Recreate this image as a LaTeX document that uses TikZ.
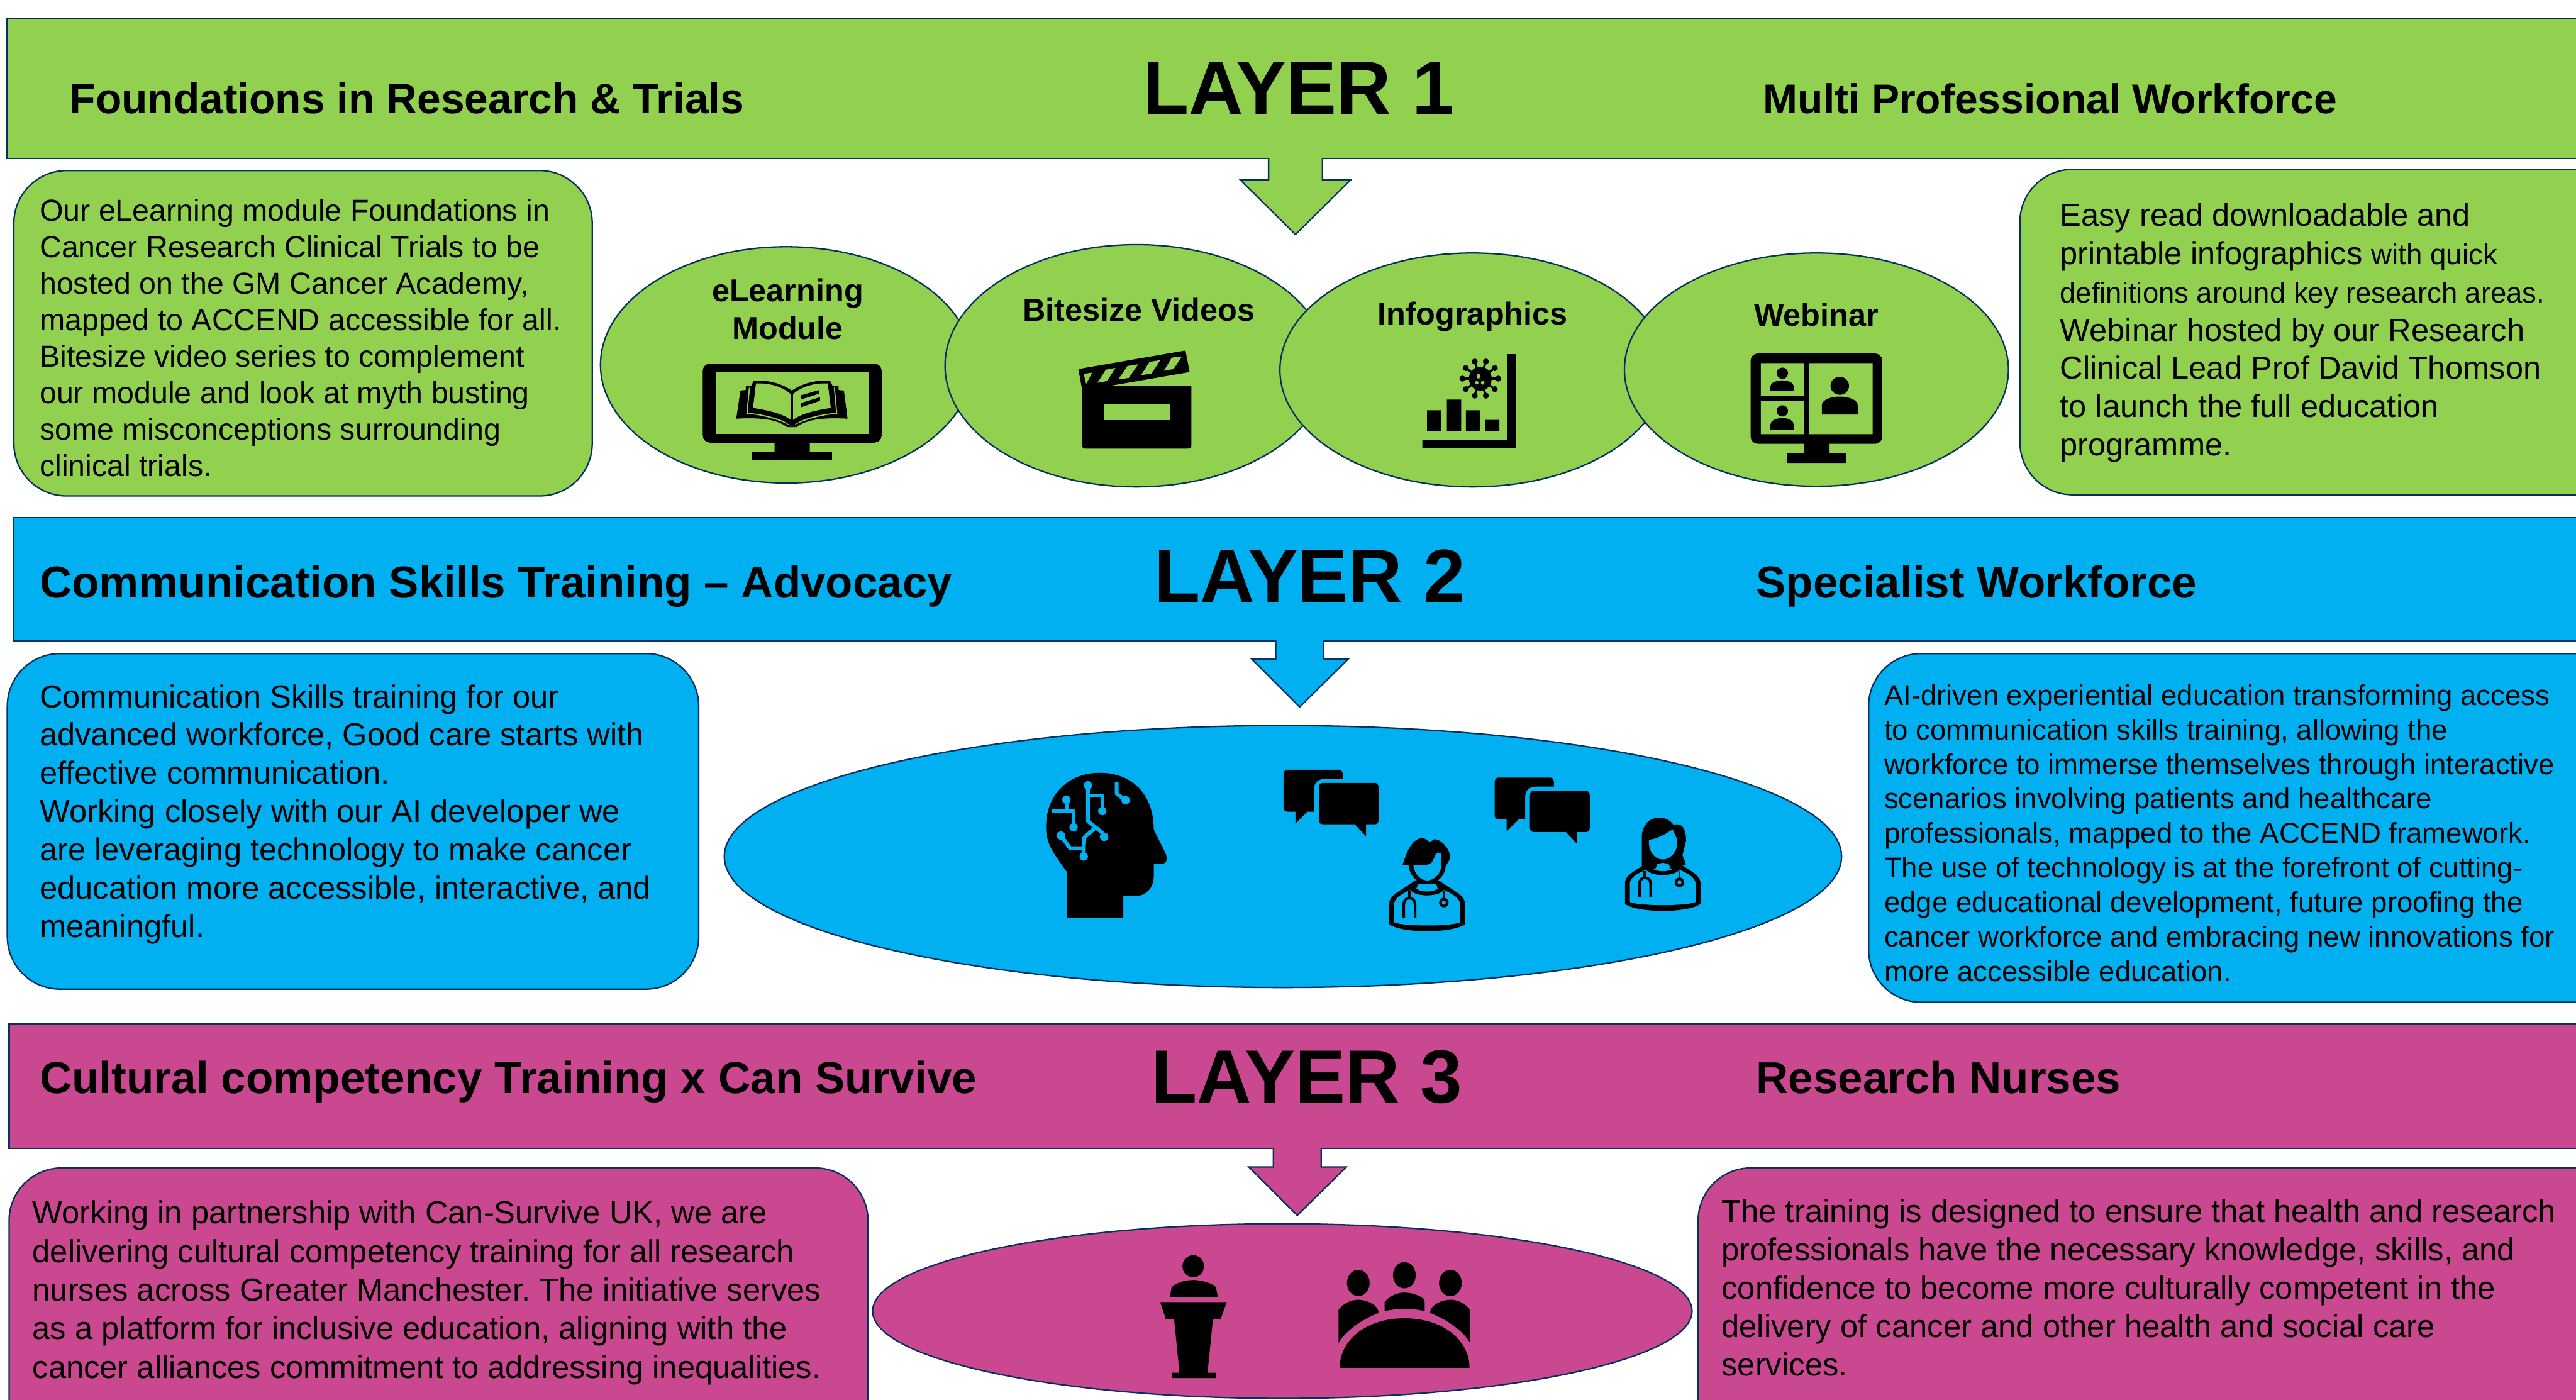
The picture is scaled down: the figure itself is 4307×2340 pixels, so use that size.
\documentclass[tikz,border=0pt]{standalone}
\usepackage{fontspec}
\setmainfont{Liberation Sans}
\definecolor{lg}{HTML}{92D050}
\definecolor{lb}{HTML}{00B0F0}
\definecolor{lm}{HTML}{C9488F}
\definecolor{edgec}{HTML}{05305F}
\newcommand{\docbody}{%
  \fill[black] (2323,1508) .. controls (2325,1495) and (2345,1488) .. (2366,1472) -- (2406,1472) .. controls (2427,1488) and (2447,1495) .. (2449,1508) -- (2449,1545) .. controls (2440,1553) and (2410,1557) .. (2386,1557) .. controls (2362,1557) and (2332,1553) .. (2323,1545) -- cycle;
  \fill[icoback] (2331,1510) .. controls (2333,1500) and (2345,1494) .. (2358,1488) .. controls (2366,1500) and (2406,1500) .. (2414,1488) .. controls (2427,1494) and (2439,1500) .. (2441,1510) -- (2441,1542) .. controls (2425,1549) and (2347,1549) .. (2331,1542) -- cycle;
  \fill[icoback] (2371,1478) -- (2401,1478) -- (2404,1486) .. controls (2395,1492) and (2377,1492) .. (2368,1486) -- cycle;
  \draw[black,line width=2.2pt] (2356,1490) -- (2356,1503);
  \draw[black,line width=2.2pt] (2347,1534) -- (2347,1512) .. controls (2347,1498) and (2366,1498) .. (2366,1512) -- (2366,1534);
  \draw[black,line width=1.6pt] (2414,1490) -- (2414,1503);
  \fill[black] (2414,1509) ellipse [x radius=8, y radius=8];
  \fill[icoback] (2414,1509) ellipse [x radius=3.5, y radius=3.5];
}
\newcommand{\bubblepair}{%
  \fill[black] (2152,1287) -- (2239,1287) .. controls (2243,1287) and (2245,1291) .. (2245,1295) -- (2245,1302) -- (2218,1302) .. controls (2203,1302) and (2197,1308) .. (2197,1320) -- (2197,1357) -- (2186,1357) -- (2166,1377) -- (2166,1357) -- (2152,1357) .. controls (2148,1357) and (2146,1353) .. (2146,1349) -- (2146,1295) .. controls (2146,1291) and (2148,1287) .. (2152,1287) -- cycle;
  \fill[black] (2211,1309) -- (2299,1309) .. controls (2303,1309) and (2305,1313) .. (2305,1317) -- (2305,1370) .. controls (2305,1375) and (2303,1378) .. (2299,1378) -- (2284,1378) -- (2284,1398) -- (2265,1378) -- (2211,1378) .. controls (2207,1378) and (2205,1375) .. (2205,1370) -- (2205,1317) .. controls (2205,1313) and (2207,1309) .. (2211,1309) -- cycle;
}
\tikzset{
  x=0.5pt,y=-0.5pt,
  banner/.style={draw=edgec,line width=1.2pt,fill=#1,rectangle,inner sep=0pt},
  bubble/.style={draw=edgec,line width=1.2pt,fill=#1,rectangle,inner sep=0pt,rounded corners=44pt},
  oval/.style={draw=edgec,line width=1.2pt,fill=#1,ellipse,inner sep=0pt},
  arrowedge/.style={draw=edgec,line width=1.2pt,line join=miter},
  layertitle/.style={font=\fontsize{63}{66}\selectfont\bfseries,inner sep=0pt},
  heading/.style={inner sep=0pt,anchor=base west},
  ovallabel/.style={font=\fontsize{26.5}{31.5}\selectfont\bfseries,inner sep=0pt,align=center},
  body/.style={inner sep=0pt,anchor=north west,align=left},
  icoback/.style={fill=lb}
}
\usetikzlibrary{shapes.geometric}
\frenchspacing
\begin{document}
\begin{tikzpicture}
\useasboundingbox (0,0) rectangle (4307,2340);
\clip (0,0) rectangle (4307,2340);
\fill[white] (0,0) rectangle (4307,2340);

% LAYER 1
\node[banner=lg,minimum width=2200pt,minimum height=117.5pt,anchor=north west] (b1) at (11,29) {};
\fill[lg] (2121,258) -- (2121,301) -- (2074,301) -- (2166,392) -- (2258,301) -- (2211,301) -- (2211,258) -- cycle;
\draw[arrowedge] (2121,264) -- (2121,301) -- (2074,301) -- (2166,392) -- (2258,301) -- (2211,301) -- (2211,264);
\node[bubble=lg,minimum width=483.5pt,minimum height=272pt,anchor=north west] (l1a) at (22,284) {};
\node[bubble=lg,minimum width=600pt,minimum height=272pt,anchor=north west] (l1b) at (3376,282) {};
\node[layertitle] (t1) at (2171,148) {LAYER 1};
\node[heading,font=\fontsize{35.6}{42}\selectfont\bfseries] (h1a) at (116,190) {Foundations in Research \& Trials};
\node[heading,font=\fontsize{34.7}{42}\selectfont\bfseries] (h1b) at (2948,190) {Multi Professional Workforce};
\node[body,font=\fontsize{25.4}{30.5}\selectfont] (p1a) at (66,332) {Our eLearning module Foundations in\\Cancer Research Clinical Trials to be\\hosted on the GM Cancer Academy,\\mapped to ACCEND accessible for all.\\Bitesize video series to complement\\our module and look at myth busting\\some misconceptions surrounding\\clinical trials.};
\node[body,font=\fontsize{26.6}{32}\selectfont] (p1b) at (3444,339) {Easy read downloadable and\\printable infographics {\fontsize{24}{32}\selectfont with quick}\\\fontsize{23.9}{32}\selectfont definitions around key research areas.\\Webinar hosted by our Research\\Clinical Lead Prof David Thomson\\to launch the full education\\programme.};

\node[oval=lg,minimum width=311pt,minimum height=197.5pt] (e1) at (1315,610) {};
\node[oval=lg,minimum width=320pt,minimum height=202.5pt] (e2) at (1900,611.5) {};
\node[oval=lg,minimum width=322pt,minimum height=195.5pt] (e3) at (2462,618.5) {};
\node[oval=lg,minimum width=321pt,minimum height=195pt] (e4) at (3037,618) {};
\node[ovallabel] (e1t) at (1317,517) {eLearning\\Module};
\node[ovallabel] (e2t) at (1904,518) {Bitesize Videos};
\node[ovallabel] (e3t) at (2462,530) {Infographics};
\node[ovallabel] (e4t) at (3037,526) {Webinar};

% monitor + book
\fill[black,rounded corners=6pt] (1175,608) rectangle (1474,740);
\fill[black] (1295,738) rectangle (1354,756) (1257,755) rectangle (1391,769);
\fill[lg] (1197,622) rectangle (1452,726);
\begin{scope}[black,line join=round]
\fill (1231,700) -- (1238,653) -- (1247,652) -- (1247,645) -- (1256,645) -- (1260,637) .. controls (1290,634) and (1312,645) .. (1324,653) .. controls (1336,645) and (1358,634) .. (1388,637) -- (1392,645) -- (1402,645) -- (1402,652) -- (1411,653) -- (1417,700) .. controls (1380,698) and (1350,700) .. (1332,714) -- (1316,714) .. controls (1298,700) and (1268,698) .. (1231,700) -- cycle;
\fill[lg] (1248,692) -- (1252,648) -- (1254,648) -- (1250,690) .. controls (1280,693) and (1308,700) .. (1322,712) .. controls (1308,704) and (1275,693) .. (1248,692) -- cycle;
\fill[lg] (1400,692) -- (1396,648) -- (1394,648) -- (1398,690) .. controls (1368,693) and (1340,700) .. (1326,712) .. controls (1340,704) and (1373,693) .. (1400,692) -- cycle;
\fill[lg] (1264,641) .. controls (1290,640) and (1310,648) .. (1322,659) -- (1322,702) .. controls (1310,692) and (1285,686) .. (1259,682) -- cycle;
\fill[lg] (1384,641) .. controls (1358,640) and (1338,648) .. (1326,659) -- (1326,702) .. controls (1338,692) and (1363,686) .. (1389,682) -- cycle;
\fill (1339,661) -- (1370,652) -- (1370,658) -- (1339,668) -- cycle;
\fill (1339,674) -- (1371,664) -- (1371,670) -- (1339,681) -- cycle;
\end{scope}

% clapboard
\fill[black] (1803,617) -- (1982,586) -- (1989,622) -- (1856,645) -- (1992,645) -- (1992,745) .. controls (1992,748) and (1990,750) .. (1986,750) -- (1815,750) .. controls (1811,750) and (1809,748) .. (1809,745) -- (1809,650) -- cycle;
\fill[lg] (1845,675) rectangle (1956,702);
\fill[lg] (1812,625) -- (1826,623) -- (1816,642) -- cycle;
\fill[lg] (1849,618) -- (1865,615) -- (1851,637) -- (1835,640) -- cycle;
\fill[lg] (1885,612) -- (1903,609) -- (1887,632) -- (1870,634) -- cycle;
\fill[lg] (1922,605) -- (1940,602) -- (1925,625) -- (1908,627) -- cycle;
\fill[lg] (1959,598) -- (1976,596) -- (1962,617) -- (1946,620) -- cycle;

% infographic
\fill[black] (2520,592) rectangle (2534,749) (2378,735) rectangle (2534,749);
\fill[black] (2386,686) rectangle (2410,721) (2419,668) rectangle (2443,721) (2451,686) rectangle (2475,721) (2483,702) rectangle (2507,721);
\foreach \a in {0,36,...,324}{
  \draw[black,line width=1.8pt] (2475,633) -- ++(\a:30);
  \fill[black] (2475,633) ++(\a:30) circle [radius=5];
}
\fill[black] (2475,633) ellipse [x radius=19, y radius=20];
\fill[lg] (2472,629) ellipse [x radius=3, y radius=4] (2469,640) ellipse [x radius=3, y radius=3] (2479,640) ellipse [x radius=3, y radius=3];

% webinar
\fill[black,rounded corners=6pt] (2927,591) rectangle (3147,742);
\fill[black] (3016,740) rectangle (3059,760) (2988,758) rectangle (3087,774);
\fill[lg] (2944,607) rectangle (3016,662) (2944,670) rectangle (3016,726) (3025,607) rectangle (3131,726);
\fill[black] (2980,624) ellipse [x radius=9.5, y radius=9.5];
\fill[black] (2960,654) -- (2960,646) .. controls (2960,640) and (2970,636) .. (2980,636) .. controls (2990,636) and (2999,640) .. (2999,646) -- (2999,654) -- cycle;
\fill[black] (2980,687) ellipse [x radius=9.5, y radius=9.5];
\fill[black] (2960,718) -- (2960,710) .. controls (2960,703) and (2970,699) .. (2980,699) .. controls (2990,699) and (2999,703) .. (2999,710) -- (2999,718) -- cycle;
\fill[black] (3076,645) ellipse [x radius=15.5, y radius=15];
\fill[black] (3046,693) -- (3046,678) .. controls (3046,668) and (3062,663) .. (3076,663) .. controls (3090,663) and (3106,668) .. (3106,678) -- (3106,693) -- cycle;

% LAYER 2
\node[banner=lb,minimum width=2200pt,minimum height=103pt,anchor=north west] (b2) at (22,864) {};
\fill[lb] (2133,1064) -- (2133,1102) -- (2093,1102) -- (2173,1182) -- (2254,1102) -- (2213,1102) -- (2213,1064) -- cycle;
\draw[arrowedge] (2133,1070) -- (2133,1102) -- (2093,1102) -- (2173,1182) -- (2254,1102) -- (2213,1102) -- (2213,1070);
\node[bubble=lb,minimum width=578pt,minimum height=280.5pt,anchor=north west] (l2a) at (11,1091.5) {};
\node[bubble=lb,minimum width=650pt,minimum height=291.5pt,anchor=north west] (l2b) at (3123,1091.5) {};
\node[layertitle] (t2) at (2190,963) {LAYER 2};
\node[heading,font=\fontsize{37.3}{42}\selectfont\bfseries] (h2a) at (66,999) {Communication Skills Training – Advocacy};
\node[heading,font=\fontsize{37.3}{42}\selectfont\bfseries] (h2b) at (2936,999) {Specialist Workforce};
\node[body,font=\fontsize{26.65}{32}\selectfont] (p2a) at (66,1144) {Communication Skills training for our\\advanced workforce, Good care starts with\\effective communication.\\Working closely with our AI developer we\\are leveraging technology to make cancer\\education more accessible, interactive, and\\meaningful.};
\node[body,font=\fontsize{23.95}{28.85}\selectfont] (p2b) at (3150,1144) {AI-driven experiential education transforming access\\to communication skills training, allowing the\\workforce to immerse themselves through interactive\\scenarios involving patients and healthcare\\professionals, mapped to the ACCEND framework.\\The use of technology is at the forefront of cutting-\\edge educational development, future proofing the\\cancer workforce and embracing new innovations for\\more accessible education.};
\node[oval=lb,minimum width=934pt,minimum height=219pt] (e5) at (2145,1432) {};

% brain head
\fill[black] (1784,1534) -- (1784,1458) .. controls (1760,1425) and (1749,1410) .. (1749,1383) .. controls (1749,1325) and (1790,1292) .. (1838,1292) .. controls (1895,1292) and (1929,1330) .. (1929,1387) -- (1948,1425) .. controls (1953,1436) and (1950,1444) .. (1944,1444) -- (1929,1444) -- (1929,1465) .. controls (1929,1485) and (1915,1498) .. (1899,1498) -- (1878,1498) -- (1878,1534) -- cycle;
\begin{scope}[lb,line width=3.2pt,line join=round]
\draw (1819,1313) -- (1819,1373) -- (1844,1393);
\draw (1819,1330) -- (1843,1330) -- (1843,1356);
\draw (1867,1307) -- (1867,1327) -- (1882,1338);
\draw (1783,1337) -- (1783,1356) -- (1795,1356) -- (1795,1383);
\draw (1783,1356) -- (1758,1356);
\draw (1774,1397) -- (1789,1418) -- (1812,1418) -- (1812,1432);
\draw (1812,1418) -- (1813,1400) -- (1830,1385);
\fill (1819,1313) circle [radius=7] (1843,1356) circle [radius=7] (1882,1338) circle [radius=7] (1783,1337) circle [radius=7] (1795,1383) circle [radius=7] (1774,1397) circle [radius=7] (1812,1432) circle [radius=7] (1846,1399) circle [radius=7];
\end{scope}

\bubblepair
\begin{scope}[shift={(353,13)}]\bubblepair\end{scope}

% male doctor
\docbody
\fill[black] (2380,1401) .. controls (2360,1401) and (2352,1425) .. (2345,1446) -- (2355,1446) .. controls (2356,1465) and (2372,1478) .. (2386,1478) .. controls (2402,1478) and (2416,1465) .. (2417,1448) -- (2425,1435) .. controls (2425,1420) and (2410,1403) .. (2398,1403) -- (2391,1408) -- cycle;
\fill[lb] (2363,1446) .. controls (2364,1460) and (2375,1472) .. (2386,1472) .. controls (2398,1472) and (2410,1460) .. (2410,1446) -- (2410,1427) -- (2402,1427) .. controls (2395,1435) and (2398,1446) .. (2382,1446) -- cycle;
% female doctor
\begin{scope}[shift={(394,-34)}]\docbody\end{scope}
\fill[black] (2745,1448) -- (2745,1400) .. controls (2745,1380) and (2758,1367) .. (2773,1367) .. controls (2785,1367) and (2793,1372) .. (2798,1379) .. controls (2812,1375) and (2819,1385) .. (2819,1405) -- (2813,1430) -- (2819,1445) -- (2800,1452) -- (2760,1452) -- cycle;
\fill[lb] (2757,1404) .. controls (2775,1402) and (2790,1390) .. (2797,1387) -- (2804,1403) -- (2804,1410) .. controls (2804,1425) and (2792,1437) .. (2780,1437) .. controls (2768,1437) and (2757,1425) .. (2757,1410) -- cycle;
\fill[black] (2762,1452) rectangle (2800,1440);
\fill[lb] (2771,1445) .. controls (2775,1442) and (2786,1442) .. (2790,1445) -- (2793,1452) .. controls (2786,1457) and (2775,1457) .. (2768,1452) -- cycle;

% LAYER 3
\node[banner=lm,minimum width=2200pt,minimum height=104pt,anchor=north west] (b3) at (14,1711) {};
\fill[lm] (2129,1913) -- (2129,1951) -- (2088,1951) -- (2169,2032) -- (2251,1951) -- (2209,1951) -- (2209,1913) -- cycle;
\draw[arrowedge] (2129,1919) -- (2129,1951) -- (2088,1951) -- (2169,2032) -- (2251,1951) -- (2209,1951) -- (2209,1919);
\node[bubble=lm,minimum width=718pt,minimum height=300pt,anchor=north west] (l3a) at (14,1951.5) {};
\node[bubble=lm,minimum width=800pt,minimum height=300pt,anchor=north west] (l3b) at (2838,1951.5) {};
\node[layertitle] (t3) at (2185,1801) {LAYER 3};
\node[heading,font=\fontsize{37.4}{42}\selectfont\bfseries] (h3a) at (66,1828) {Cultural competency Training x Can Survive};
\node[heading,font=\fontsize{37.3}{42}\selectfont\bfseries] (h3b) at (2936,1828) {Research Nurses};
\node[body,font=\fontsize{26.65}{32.25}\selectfont] (p3a) at (54,2007) {Working in partnership with Can-Survive UK, we are\\delivering cultural competency training for all research\\nurses across Greater Manchester. The initiative serves\\as a platform for inclusive education, aligning with the\\cancer alliances commitment to addressing inequalities.};
\node[body,font=\fontsize{26.7}{32}\selectfont] (p3b) at (2878,2005) {The training is designed to ensure that health and research\\professionals have the necessary knowledge, skills, and\\confidence to become more culturally competent in the\\delivery of cancer and other health and social care\\services.};
\node[oval=lm,minimum width=685pt,minimum height=146pt] (e6) at (2144,2192) {};

% podium
\fill[black] (1995,2117) ellipse [x radius=18, y radius=18.5];
\fill[black] (1956,2168) -- (1959,2152) .. controls (1965,2146) and (1980,2140) .. (1995,2140) .. controls (2010,2140) and (2028,2146) .. (2033,2152) -- (2036,2168) -- cycle;
\fill[black] (1940,2177) -- (2051,2177) -- (2041,2205) -- (2028,2205) -- (2019,2295) -- (2033,2295) -- (2033,2304) -- (1959,2304) -- (1959,2295) -- (1972,2295) -- (1963,2205) -- (1949,2205) -- cycle;
% table with people
\fill[black] (2240,2287) .. controls (2240,2240) and (2285,2204) .. (2348,2204) .. controls (2412,2204) and (2457,2240) .. (2457,2287) -- cycle;
\fill[black] (2271,2145) ellipse [x radius=19, y radius=22] (2348,2132) ellipse [x radius=19, y radius=22] (2425,2145) ellipse [x radius=19, y radius=22];
\fill[black] (2238,2245) -- (2238,2190) .. controls (2245,2180) and (2258,2173) .. (2271,2173) .. controls (2285,2173) and (2305,2182) .. (2305,2195) .. controls (2275,2207) and (2250,2225) .. (2238,2245) -- cycle;
\fill[black] (2458,2245) -- (2458,2190) .. controls (2451,2180) and (2438,2173) .. (2425,2173) .. controls (2411,2173) and (2391,2182) .. (2391,2195) .. controls (2421,2207) and (2446,2225) .. (2458,2245) -- cycle;
\fill[black] (2315,2192) -- (2315,2177) .. controls (2322,2168) and (2335,2161) .. (2348,2161) .. controls (2362,2161) and (2382,2168) .. (2382,2177) -- (2382,2192) .. controls (2360,2187) and (2338,2187) .. (2315,2192) -- cycle;
\end{tikzpicture}
\end{document}
